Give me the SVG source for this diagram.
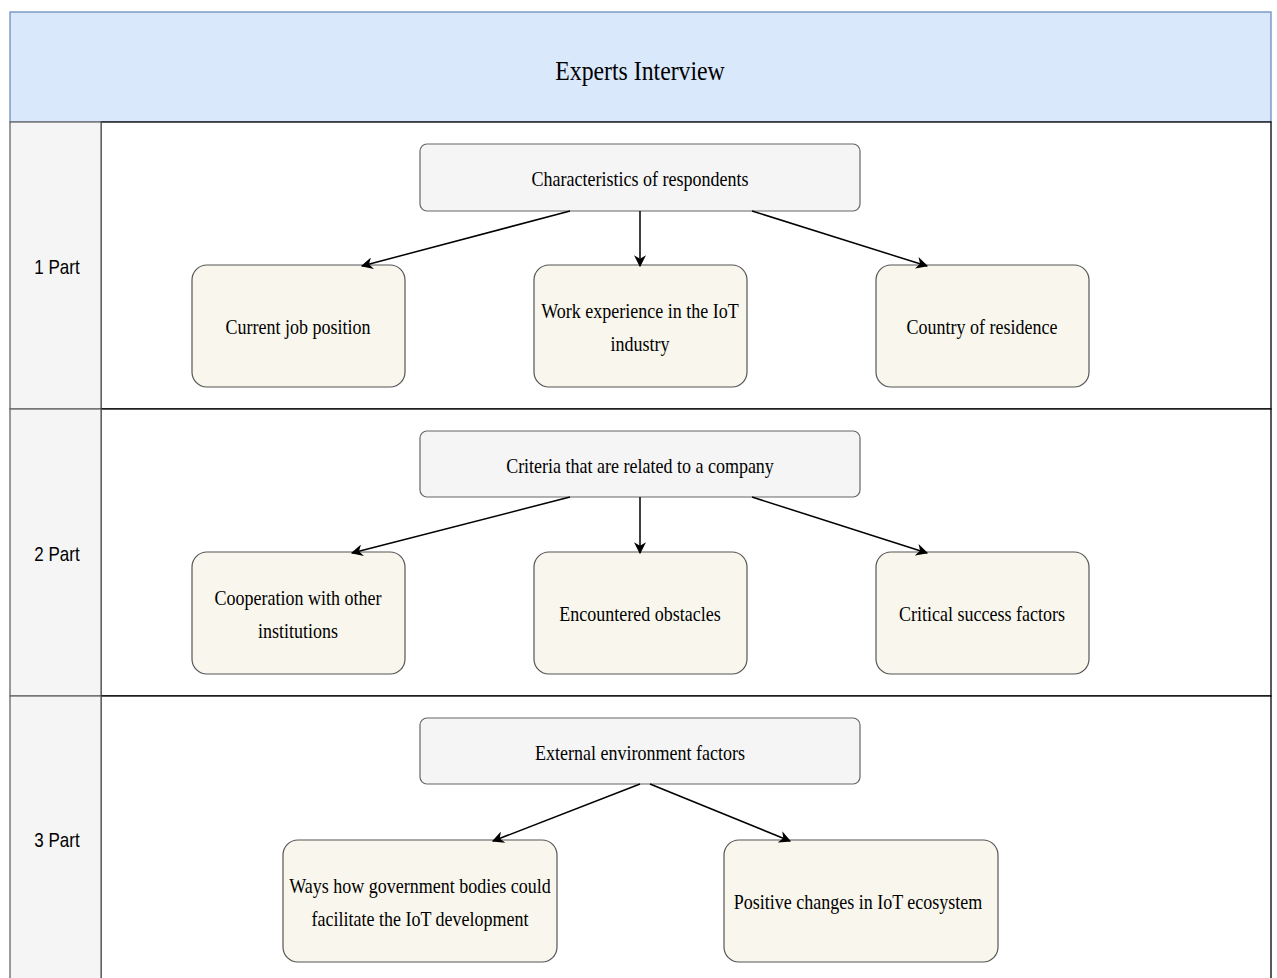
<svg xmlns="http://www.w3.org/2000/svg" width="1277" height="978" viewBox="0 0 1277 978">
<defs>
<marker id="ah" viewBox="0 0 10 10" refX="9" refY="5" markerWidth="12" markerHeight="12" markerUnits="userSpaceOnUse" orient="auto">
<path d="M0,0 L10,5 L0,10 L3,5 Z" fill="#000"/>
</marker>
<style>
.hdr{fill:#dae8fc;stroke:#6c8ebf;stroke-width:1.3}
.lane{fill:#f5f5f5;stroke:#666;stroke-width:1.3}
.body{fill:#fff;stroke:#000;stroke-width:1.3}
.top{fill:#f5f5f5;stroke:#666;stroke-width:1.2}
.leaf{fill:#f9f7ed;stroke:#555;stroke-width:1.2}
.t{font-family:"Liberation Serif",serif;font-size:20px;fill:#000;text-anchor:middle}
.h{font-family:"Liberation Serif",serif;font-size:27px;fill:#000;text-anchor:middle}
.p{font-family:"Liberation Sans",Arial,sans-serif;font-size:20px;fill:#000;text-anchor:middle}
.c{stroke:#000;stroke-width:1.5;fill:none;marker-end:url(#ah)}
</style>
</defs>
<g id="header">
<rect class="hdr" x="10" y="12" width="1261" height="110"/>
<text class="h" transform="matrix(0.88 0 0 1 640 80)">Experts Interview</text>
</g>
<g id="lane1">
<rect class="body" x="101" y="122" width="1170" height="287"/>
<rect class="lane" x="10" y="122" width="91" height="287"/>
<text class="p" transform="matrix(0.85 0 0 1 57 274)">1 Part</text>
</g>
<g id="lane2">
<rect class="body" x="101" y="409" width="1170" height="287"/>
<rect class="lane" x="10" y="409" width="91" height="287"/>
<text class="p" transform="matrix(0.85 0 0 1 57 561)">2 Part</text>
</g>
<g id="lane3">
<rect class="body" x="101" y="696" width="1170" height="290"/>
<rect class="lane" x="10" y="696" width="91" height="290"/>
<text class="p" transform="matrix(0.85 0 0 1 57 847)">3 Part</text>
</g>
<g id="n1">
<rect class="top" x="420" y="144" width="440" height="67" rx="7"/>
<text class="t" transform="matrix(0.9 0 0 1 640 186)">Characteristics of respondents</text>
</g>
<g id="n1a">
<rect class="leaf" x="192" y="265" width="213" height="122" rx="15"/>
<text class="t" transform="matrix(0.9 0 0 1 298 334)">Current job position</text>
</g>
<g id="n1b">
<rect class="leaf" x="534" y="265" width="213" height="122" rx="15"/>
<text class="t" transform="matrix(0.9 0 0 1 640 318)">Work experience in the IoT</text>
<text class="t" transform="matrix(0.9 0 0 1 640 351)">industry</text>
</g>
<g id="n1c">
<rect class="leaf" x="876" y="265" width="213" height="122" rx="15"/>
<text class="t" transform="matrix(0.9 0 0 1 982 334)">Country of residence</text>
</g>
<g id="n2">
<rect class="top" x="420" y="431" width="440" height="66" rx="7"/>
<text class="t" transform="matrix(0.9 0 0 1 640 473)">Criteria that are related to a company</text>
</g>
<g id="n2a">
<rect class="leaf" x="192" y="552" width="213" height="122" rx="15"/>
<text class="t" transform="matrix(0.9 0 0 1 298 605)">Cooperation with other</text>
<text class="t" transform="matrix(0.9 0 0 1 298 638)">institutions</text>
</g>
<g id="n2b">
<rect class="leaf" x="534" y="552" width="213" height="122" rx="15"/>
<text class="t" transform="matrix(0.9 0 0 1 640 621)">Encountered obstacles</text>
</g>
<g id="n2c">
<rect class="leaf" x="876" y="552" width="213" height="122" rx="15"/>
<text class="t" transform="matrix(0.9 0 0 1 982 621)">Critical success factors</text>
</g>
<g id="n3">
<rect class="top" x="420" y="718" width="440" height="66" rx="7"/>
<text class="t" transform="matrix(0.9 0 0 1 640 760)">External environment factors</text>
</g>
<g id="n3a">
<rect class="leaf" x="283" y="840" width="274" height="122" rx="15"/>
<text class="t" transform="matrix(0.9 0 0 1 420 893)">Ways how government bodies could</text>
<text class="t" transform="matrix(0.9 0 0 1 420 926)">facilitate the IoT development</text>
</g>
<g id="n3b">
<rect class="leaf" x="724" y="840" width="274" height="122" rx="15"/>
<text class="t" transform="matrix(0.9 0 0 1 858 909)">Positive changes in IoT ecosystem</text>
</g>
<g id="connectors">
<line class="c" x1="570" y1="211" x2="362" y2="266"/>
<line class="c" x1="640" y1="211" x2="640" y2="266"/>
<line class="c" x1="752" y1="211" x2="927" y2="266"/>
<line class="c" x1="570" y1="497" x2="352" y2="553"/>
<line class="c" x1="640" y1="497" x2="640" y2="553"/>
<line class="c" x1="752" y1="497" x2="927" y2="553"/>
<line class="c" x1="640" y1="784" x2="493" y2="841"/>
<line class="c" x1="650" y1="784" x2="790" y2="841"/>
</g>
</svg>
